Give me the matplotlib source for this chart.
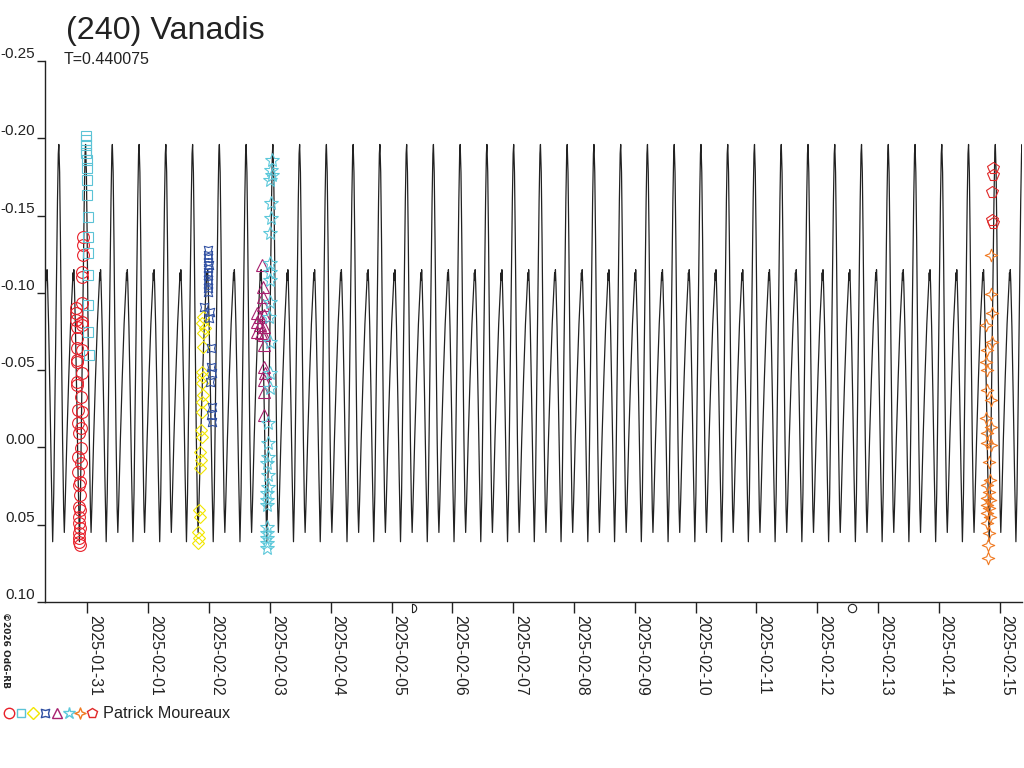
import numpy as np
import matplotlib
matplotlib.use('Agg')
import matplotlib.pyplot as plt
from matplotlib.path import Path
import matplotlib.transforms as mtrans

plt.rcParams['font.family'] = ['Liberation Sans', 'DejaVu Sans']

# ---------------- data ----------------
title = "(240) Vanadis"
period_label = "T=0.440075"
period_days = 0.440075
observer = "Patrick Moureaux"
credit = "\u00a92026 OdG-RB"

# x axis: days since 2025-01-31 00:00 UT
tick_pos = list(range(16))
tick_labels = ["2025-01-31", "2025-02-01", "2025-02-02", "2025-02-03", "2025-02-04",
               "2025-02-05", "2025-02-06", "2025-02-07", "2025-02-08", "2025-02-09",
               "2025-02-10", "2025-02-11", "2025-02-12", "2025-02-13", "2025-02-14",
               "2025-02-15"]
ytick_vals = [-0.25, -0.20, -0.15, -0.10, -0.05, 0.00, 0.05, 0.10]
ytick_labels = ["-0.25", "-0.20", "-0.15", "-0.10", "-0.05", "0.00", "0.05", "0.10"]
x_start, x_end = -0.699, 15.370

# model light curve: one cycle (phase 0 = main maximum)
profile_phase = [0.00, 0.03, 0.06, 0.10, 0.14, 0.18, 0.205, 0.24, 0.30, 0.37, 0.44, 0.50,
                 0.53, 0.545, 0.56, 0.58, 0.62, 0.67, 0.72, 0.77, 0.81, 0.86, 0.91, 0.95,
                 0.98, 1.00]
profile_mag = [-0.196, -0.178, -0.135, -0.065, -0.005, 0.040, 0.055, 0.035, -0.005, -0.045,
               -0.080, -0.103, -0.113, -0.108, -0.115, -0.106, -0.078, -0.032, 0.018, 0.061,
               0.030, -0.035, -0.105, -0.160, -0.190, -0.196]
epoch_peak = 8.770  # a main maximum, days since 2025-01-31

# moon phases (days since 2025-01-31)
moon_first_quarter = 5.335
moon_full = 12.579

# observation sessions
s1_t = [-0.079, -0.079, -0.069, -0.086, -0.086, -0.086, -0.189, -0.189, -0.194, -0.095, -0.178,
        -0.086, -0.168, -0.178, -0.086, -0.178, -0.168, -0.168, -0.095, -0.168, -0.112, -0.151,
        -0.095, -0.151, -0.112, -0.140, -0.112, -0.151, -0.112, -0.151, -0.123, -0.140, -0.123,
        -0.140, -0.123, -0.140, -0.140, -0.123, -0.140, -0.140, -0.140, -0.123]
s1_m = [-0.1363, -0.1310, -0.1245, -0.1137, -0.1105, -0.0933, -0.0900, -0.0868, -0.0824, -0.0813,
        -0.0781, -0.0792, -0.0706, -0.0641, -0.0630, -0.0566, -0.0555, -0.0426, -0.0480, -0.0404,
        -0.0328, -0.0242, -0.0231, -0.0156, -0.0124, -0.0091, 0.0006, 0.0060, 0.0103, 0.0157,
        0.0222, 0.0244, 0.0308, 0.0384, 0.0406, 0.0448, 0.0491, 0.0523, 0.0556, 0.0588, 0.0610,
        0.0631]

s2_t = [0.025, 0.016, 0.016, 0.008, 0.008, 0.008, 0.008, 0.000, -0.003, -0.016, -0.016, -0.025,
        -0.025, -0.030, -0.025, -0.020]
s2_m = [-0.0598, -0.0747, -0.0921, -0.1116, -0.1258, -0.1361, -0.1491, -0.1633, -0.1730, -0.1808,
        -0.1860, -0.1905, -0.1924, -0.1957, -0.1989, -0.2015]

s3_t = [1.905, 1.878, 1.933, 1.895, 1.905, 1.878, 1.895, 1.878, 1.895, 1.878, 1.878, 1.862, 1.878,
        1.850, 1.862, 1.850, 1.839, 1.850, 1.822, 1.839, 1.822]
s3_m = [-0.0846, -0.0803, -0.0771, -0.0738, -0.0652, -0.0490, -0.0458, -0.0415, -0.0339, -0.0296,
        -0.0231, -0.0113, -0.0069, 0.0028, 0.0081, 0.0135, 0.0405, 0.0448, 0.0545, 0.0588, 0.0620]

s4_t = [1.980, 1.990, 1.975, 1.985, 1.993, 1.978, 1.988, 1.982, 1.975, 1.990, 1.985, 1.980,
        1.916, 2.015, 2.003, 2.026, 2.026, 2.043, 2.015, 2.043, 2.026, 2.043]
s4_m = [-0.1277, -0.1245, -0.1224, -0.1202, -0.1180, -0.1159, -0.1137, -0.1116, -0.1083, -0.1062,
        -0.1029, -0.1008, -0.0910, -0.0878, -0.0835, -0.0641, -0.0522, -0.0480, -0.0425, -0.0264,
        -0.0210, -0.0166]

s5_t = [2.865, 2.882, 2.882, 2.882, 2.793, 2.837, 2.903, 2.783, 2.837, 2.903, 2.783, 2.849, 2.903,
        2.903, 2.903, 2.919, 2.903, 2.903, 2.903]
s5_m = [-0.1180, -0.1040, -0.0975, -0.0921, -0.0868, -0.0846, -0.0857, -0.0813, -0.0792, -0.0781,
        -0.0749, -0.0738, -0.0727, -0.0663, -0.0522, -0.0480, -0.0436, -0.0361, -0.0210]

s6_t = [3.030, 3.013, 3.030, 3.002, 3.013, 3.013, 3.002, 3.002, 3.002, 3.002, 3.002, 2.990, 3.002,
        3.002, 3.002, 2.974, 2.974, 2.974, 2.947, 2.974, 2.974, 2.957, 2.947, 2.947, 2.957, 2.947,
        2.947, 2.947, 2.947]
s6_m = [-0.1860, -0.1795, -0.1762, -0.1730, -0.1579, -0.1482, -0.1385, -0.1191, -0.1137, -0.1083,
        -0.0943, -0.0846, -0.0684, -0.0480, -0.0382, -0.0156, -0.0027, 0.0060, 0.0103, 0.0178,
        0.0254, 0.0297, 0.0340, 0.0373, 0.0513, 0.0556, 0.0588, 0.0620, 0.0653]

s7_t = [14.855, 14.855, 14.872, 14.778, 14.872, 14.789, 14.778, 14.789, 14.789, 14.855, 14.778,
        14.855, 14.799, 14.789, 14.855, 14.832, 14.844, 14.799, 14.832, 14.799, 14.844, 14.799,
        14.832, 14.799, 14.844, 14.799, 14.832, 14.816, 14.816]
s7_m = [-0.1245, -0.0993, -0.0872, -0.0792, -0.0684, -0.0630, -0.0555, -0.0501, -0.0372, -0.0307,
        -0.0188, -0.0134, -0.0091, -0.0027, -0.0016, 0.0092, 0.0211, 0.0243, 0.0286, 0.0329,
        0.0340, 0.0373, 0.0394, 0.0426, 0.0448, 0.0491, 0.0556, 0.0631, 0.0717]

s8_t = [14.888, 14.898, 14.872, 14.872, 14.888]
s8_m = [-0.1806, -0.1762, -0.1654, -0.1471, -0.1450]

# ---------------- marker shapes ----------------
concave_sq = Path([(1, 1), (0.0, 0.72), (-1, 1), (-0.72, 0.0), (-1, -1), (0.0, -0.72),
                   (1, -1), (0.72, 0.0), (1, 1)], closed=True)
star4 = Path([(0, 1), (0.28, 0.28), (1, 0), (0.28, -0.28), (0, -1), (-0.28, -0.28), (-1, 0),
              (-0.28, 0.28), (0, 1)], closed=True)
th = np.linspace(-np.pi / 2, np.pi / 2, 20)
half_moon = Path(list(zip(np.cos(th), np.sin(th))) + [(0, 1), (0, -1)])

series = [
    (s1_t, s1_m, 'o', '#E8202A', 8.5),
    (s2_t, s2_m, 's', '#5CC3D6', 6.5),
    (s3_t, s3_m, 'D', '#F2E600', 6.5),
    (s4_t, s4_m, concave_sq, '#2F4FA2', 6),
    (s5_t, s5_m, '^', '#A8206E', 8),
    (s6_t, s6_m, '*', '#5CC8DA', 10),
    (s7_t, s7_m, star4, '#F07A22', 9),
    (s8_t, s8_m, 'p', '#E02828', 8.5),
]

# ---------------- figure ----------------
W, H = 1024, 768
fig = plt.figure(figsize=(W / 100, H / 100), dpi=100)
ax = fig.add_axes([45 / W, 1 - 602 / H, (1022 - 45) / W, (602 - 61) / H])

# model curve
n0 = int(np.floor((x_start - epoch_peak) / period_days)) - 1
n1 = int(np.ceil((x_end - epoch_peak) / period_days)) + 1
ph = np.array(profile_phase[:-1])
mg = np.array(profile_mag[:-1])
ct, cm = [], []
for n in range(n0, n1 + 1):
    ct.extend(epoch_peak + (n + ph) * period_days)
    cm.extend(mg)
ax.plot(ct, cm, color='#222222', lw=0.9, zorder=2)

for t, m, mk, col, ms in series:
    ax.plot(t, m, linestyle='none', marker=mk, markersize=ms, markerfacecolor='none',
            markeredgecolor=col, markeredgewidth=0.8, zorder=3)

ax.set_xlim(x_start, x_end)
ax.set_ylim(0.10, -0.25)
for s in ['top', 'right']:
    ax.spines[s].set_visible(False)
for s in ['left', 'bottom']:
    ax.spines[s].set_color('#222222')
    ax.spines[s].set_linewidth(1.0)

ax.set_yticks(ytick_vals)
ax.set_yticklabels(ytick_labels, fontsize=11, color='#222222')
for lbl in ax.get_yticklabels():
    lbl.set_va('bottom')
ax.tick_params(axis='y', direction='out', length=6, width=1.0, pad=1.5, color='#222222')

ax.set_xticks(tick_pos)
ax.set_xticklabels(tick_labels, rotation=270, ha='left', va='top', fontsize=11.3, color='#222222')
ax.tick_params(axis='x', direction='out', length=8, width=1.0, pad=1.5, color='#222222')

# moon phase symbols just below the axis
btrans = mtrans.blended_transform_factory(ax.transData, ax.transAxes)
ax.plot([moon_first_quarter], [-0.011], marker=half_moon, markersize=6, markerfacecolor='none',
        markeredgecolor='#222222', markeredgewidth=0.8, transform=btrans, clip_on=False)
ax.plot([moon_full], [-0.011], marker='o', markersize=6, markerfacecolor='none',
        markeredgecolor='#222222', markeredgewidth=0.8, transform=btrans, clip_on=False)

# texts
fig.text(66 / W, 1 - 39 / H, title, fontsize=23.2, color='#222222', va='baseline', ha='left')
fig.text(64 / W, 1 - 64 / H, period_label, fontsize=11.5, color='#222222', va='baseline', ha='left')
fig.text(1 / W, 1 - 612 / H, credit, fontsize=6.5, fontweight='bold', rotation=270,
         family='DejaVu Sans', color='#222222', va='top', ha='left')

# legend row
lax = fig.add_axes([0, 0, 1, 1], facecolor='none')
lax.set_xlim(0, W)
lax.set_ylim(H, 0)
lax.axis('off')
leg_x = [9, 21, 33, 45, 57, 68.5, 80, 92]
leg_ms = [7.5, 5.5, 6, 6, 7, 9, 8, 7.5]
for (t, m, mk, col, ms), lx, lms in zip(series, leg_x, leg_ms):
    lax.plot([lx], [713], linestyle='none', marker=mk, markersize=lms, markerfacecolor='none',
             markeredgecolor=col, markeredgewidth=1.0)
lax.text(103, 713, observer, fontsize=11.7, color='#222222', va='center', ha='left')

fig.savefig('out.png', dpi=100)
